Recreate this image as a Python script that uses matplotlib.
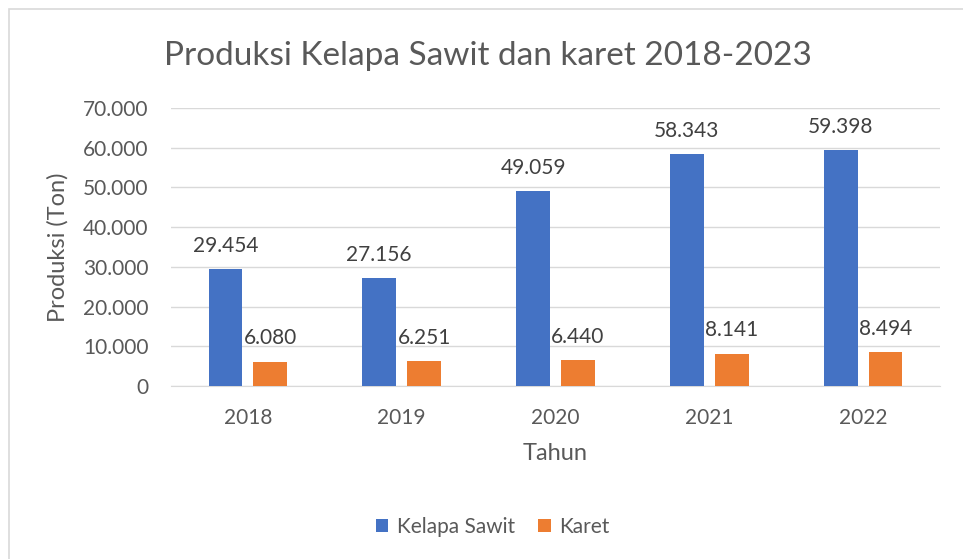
import numpy as np
import matplotlib
matplotlib.use("Agg")
import matplotlib.pyplot as plt
from matplotlib.patches import Rectangle

plt.rcParams['font.family'] = ['Lato', 'DejaVu Sans']

tahun = ["2018", "2019", "2020", "2021", "2022"]
kelapa_sawit = [29454, 27156, 49059, 58343, 59398]
karet = [6080, 6251, 6440, 8141, 8494]
y_ticks = [0, 10000, 20000, 30000, 40000, 50000, 60000, 70000]

text_col = "#595959"
blue = "#4472C4"
orange = "#ED7D31"

W, H = 963, 559


def fmt(v):
    # Indonesian thousands separator
    return f"{v:,}".replace(",", ".")


fig = plt.figure(figsize=(W / 100, H / 100), dpi=100)
fig.patches.append(Rectangle((8.5 / W, -0.2), 1.2, 1.2 - 9 / H, transform=fig.transFigure,
                             fill=False, edgecolor="#D9D9D9", linewidth=1.2))

ax = fig.add_axes([171 / W, 1 - 386 / H, (940 - 171) / W, (386 - 108) / H])

x = np.arange(len(tahun))
w = 0.22
off = 0.146
b1 = ax.bar(x - off, kelapa_sawit, w, color=blue, label="Kelapa Sawit", zorder=3)
b2 = ax.bar(x + off, karet, w, color=orange, label="Karet", zorder=3)

for bars, vals in ((b1, kelapa_sawit), (b2, karet)):
    for rect, v in zip(bars, vals):
        ax.annotate(fmt(v), (rect.get_x() + rect.get_width() / 2, v),
                    xytext=(0, 12.5), textcoords="offset points",
                    ha="center", va="baseline", fontsize=15, color="#404040")

ax.set_xlim(-0.5, len(tahun) - 0.5)
ax.set_ylim(0, 70000)
ax.set_yticks(y_ticks)
ax.set_yticklabels([fmt(v) for v in y_ticks])
ax.set_xticks(x)
ax.set_xticklabels(tahun)
ax.tick_params(length=0, labelsize=15, colors=text_col)
ax.tick_params(axis="y", pad=16)
ax.tick_params(axis="x", pad=16)
ax.grid(axis="y", color="#D9D9D9", linewidth=1, zorder=0)
for s in ("top", "right", "left"):
    ax.spines[s].set_visible(False)
ax.spines["bottom"].set_color("#D9D9D9")

ax.set_xlabel("Tahun", fontsize=17, color=text_col, labelpad=11)
ax.set_ylabel("Produksi (Ton)", fontsize=17, color=text_col)
ax.yaxis.set_label_coords((69 - 171) / 769, 0.5)

fig.text(487.5 / W, 1 - 65 / H, "Produksi Kelapa Sawit dan karet 2018-2023",
         ha="center", va="baseline", fontsize=24, color=text_col)

fig.legend(loc="center", bbox_to_anchor=(492.5 / W, 1 - 527 / H), ncol=2,
           frameon=False, fontsize=15, labelcolor=text_col,
           handlelength=0.62, handleheight=0.62, columnspacing=1.1, handletextpad=0.4)

fig.savefig("out.png", dpi=100)
